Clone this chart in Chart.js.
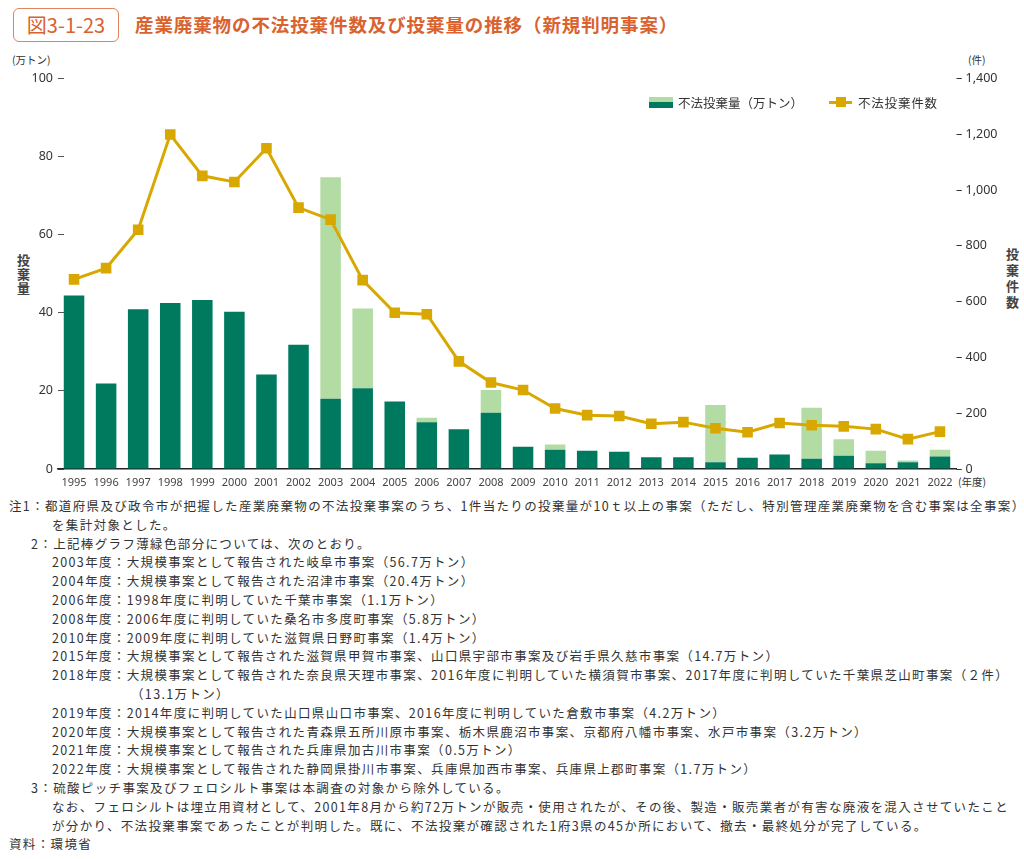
<!DOCTYPE html>
<html lang="ja">
<head>
<meta charset="utf-8">
<title>図3-1-23 産業廃棄物の不法投棄件数及び投棄量の推移</title>
<script src="https://cdn.jsdelivr.net/npm/chart.js@4.4.1/dist/chart.umd.min.js"></script>
<style>
    body {
        margin: 0;
        width: 1024px;
        height: 859px;
        position: relative;
        overflow: hidden;
        background: #fff;
        color: #333;
        font-family: "Noto Sans CJK JP", "Noto Sans", sans-serif;
    }
    .fig-no {
        position: absolute;
        left: 13px;
        top: 8px;
        width: 104px;
        height: 32px;
        border: 1.5px solid #e0835a;
        border-radius: 6px;
        color: #d9622f;
        font-size: 20px;
        line-height: 32px;
        text-align: center;
    }
    .fig-title {
        position: absolute;
        left: 135px;
        top: 9px;
        color: #d9622f;
        font-size: 18.5px;
        font-weight: bold;
        letter-spacing: 0.9px;
        line-height: 30px;
        white-space: nowrap;
    }
    .unit { position: absolute; font-size: 10.5px; white-space: nowrap; }
    .vtitle {
        position: absolute;
        writing-mode: vertical-rl;
        font-size: 13px;
        font-weight: bold;
        color: #444;
    }
    #chart-wrap { position: absolute; left: 0; top: 60px; width: 1024px; height: 436px; }
    .legend { position: absolute; top: 94px; font-size: 12.5px; line-height: 17px; white-space: nowrap; }
    .legend .bar-icon { position: absolute; left: 0; top: 3px; width: 24px; height: 11px; }
    .legend .bar-icon .light { height: 5px; background: #b3dca4; }
    .legend .bar-icon .dark { height: 6px; background: #007a5e; }
    .legend .line-icon { position: absolute; left: 0; top: 7px; width: 23px; height: 3px; background: #d8a800; }
    .legend .line-icon::after {
        content: ""; position: absolute; left: 7px; top: -4px; width: 10px; height: 10px; background: #d8a800;
    }
    .legend span { position: absolute; left: 29px; top: 0; }
    .notes {
        position: absolute;
        left: 0;
        top: 497px;
        width: 1024px;
        font-size: 12.5px;
        line-height: 18.8px;
        letter-spacing: 1.35px;
        white-space: nowrap;
    }
    .notes div { padding-left: 52px; }
    .notes .l0 { padding-left: 9px; }
    .notes .l1 { padding-left: 31px; }
    .notes .l3 { padding-left: 131px; }
</style>
</head>
<body>
<div class="fig-no">図3-1-23</div>
<div class="fig-title">産業廃棄物の不法投棄件数及び投棄量の推移（新規判明事案）</div>

<div class="unit" style="left:12px; top:52px;">(万トン)</div>
<div class="unit" style="left:968px; top:52px;">(件)</div>
<div class="unit" style="left:958px; top:474px;">(年度)</div>
<div class="vtitle" style="left:14px; top:254px; letter-spacing:0.7px;">投棄量</div>
<div class="vtitle" style="left:1003px; top:248px; letter-spacing:2.7px;">投棄件数</div>

<div id="chart-wrap"><canvas id="dumping-chart"></canvas></div>

<div class="legend" style="left:649px;">
    <div class="bar-icon"><div class="light"></div><div class="dark"></div></div>
    <span>不法投棄量（万トン）</span>
</div>
<div class="legend" style="left:829px; letter-spacing:0.8px;">
    <div class="line-icon"></div>
    <span>不法投棄件数</span>
</div>

<div class="notes">
    <div class="l0">注1：都道府県及び政令市が把握した産業廃棄物の不法投棄事案のうち、1件当たりの投棄量が10ｔ以上の事案（ただし、特別管理産業廃棄物を含む事案は全事案）</div>
    <div>を集計対象とした。</div>
    <div class="l1">2：上記棒グラフ薄緑色部分については、次のとおり。</div>
    <div>2003年度：大規模事案として報告された岐阜市事案（56.7万トン）</div>
    <div>2004年度：大規模事案として報告された沼津市事案（20.4万トン）</div>
    <div>2006年度：1998年度に判明していた千葉市事案（1.1万トン）</div>
    <div>2008年度：2006年度に判明していた桑名市多度町事案（5.8万トン）</div>
    <div>2010年度：2009年度に判明していた滋賀県日野町事案（1.4万トン）</div>
    <div>2015年度：大規模事案として報告された滋賀県甲賀市事案、山口県宇部市事案及び岩手県久慈市事案（14.7万トン）</div>
    <div>2018年度：大規模事案として報告された奈良県天理市事案、2016年度に判明していた横須賀市事案、2017年度に判明していた千葉県芝山町事案（２件）</div>
    <div class="l3">（13.1万トン）</div>
    <div>2019年度：2014年度に判明していた山口県山口市事案、2016年度に判明していた倉敷市事案（4.2万トン）</div>
    <div>2020年度：大規模事案として報告された青森県五所川原市事案、栃木県鹿沼市事案、京都府八幡市事案、水戸市事案（3.2万トン）</div>
    <div>2021年度：大規模事案として報告された兵庫県加古川市事案（0.5万トン）</div>
    <div>2022年度：大規模事案として報告された静岡県掛川市事案、兵庫県加西市事案、兵庫県上郡町事案（1.7万トン）</div>
    <div class="l1">3：硫酸ピッチ事案及びフェロシルト事案は本調査の対象から除外している。</div>
    <div>なお、フェロシルトは埋立用資材として、2001年8月から約72万トンが販売・使用されたが、その後、製造・販売業者が有害な廃液を混入させていたこと</div>
    <div>が分かり、不法投棄事案であったことが判明した。既に、不法投棄が確認された1府3県の45か所において、撤去・最終処分が完了している。</div>
    <div class="l0">資料：環境省</div>
</div>

<script>
// 年度
const years = ['1995', '1996', '1997', '1998', '1999', '2000', '2001', '2002', '2003', '2004',
    '2005', '2006', '2007', '2008', '2009', '2010', '2011', '2012', '2013', '2014',
    '2015', '2016', '2017', '2018', '2019', '2020', '2021', '2022'];

// 不法投棄量（万トン）: 通常部分
const volumeRegular = [44.4, 21.9, 40.9, 42.5, 43.3, 40.3, 24.2, 31.8, 18.0, 20.7,
    17.3, 12.0, 10.2, 14.4, 5.7, 4.9, 4.7, 4.4, 3.0, 3.0,
    1.7, 2.9, 3.7, 2.6, 3.4, 1.5, 1.7, 3.2];

// 不法投棄量（万トン）: 薄緑色部分（大規模事案など）
const volumeLarge = [0, 0, 0, 0, 0, 0, 0, 0, 56.7, 20.4,
    0, 1.1, 0, 5.8, 0, 1.4, 0, 0, 0, 0,
    14.7, 0, 0, 13.1, 4.2, 3.2, 0.5, 1.7];

// 不法投棄件数
const caseCounts = [680, 720, 858, 1199, 1051, 1029, 1150, 937, 894, 677,
    560, 555, 386, 310, 283, 217, 193, 190, 162, 168,
    146, 132, 165, 157, 153, 143, 107, 134];

const volumeTicks = { min: 0, max: 100, step: 20 };
const countTicks = { min: 0, max: 1400, step: 200 };

const tickFont = { family: '"Noto Sans", sans-serif', size: 12.5 };

new Chart(document.getElementById('dumping-chart'), {
    data: {
        labels: years,
        datasets: [
            {
                type: 'line',
                label: '不法投棄件数',
                data: caseCounts,
                yAxisID: 'y1',
                order: 0,
                borderColor: '#d8a800',
                backgroundColor: '#d8a800',
                borderWidth: 3,
                pointStyle: 'rect',
                pointRadius: 7.5,
                pointBorderWidth: 0,
                tension: 0
            },
            {
                type: 'bar',
                label: '不法投棄量（万トン）',
                data: volumeRegular,
                yAxisID: 'y',
                order: 1,
                backgroundColor: '#007a5e',
                barPercentage: 0.64,
                categoryPercentage: 1
            },
            {
                type: 'bar',
                label: '不法投棄量（大規模事案等）',
                data: volumeLarge,
                yAxisID: 'y',
                order: 1,
                backgroundColor: '#b3dca4',
                barPercentage: 0.64,
                categoryPercentage: 1
            }
        ]
    },
    options: {
        responsive: true,
        maintainAspectRatio: false,
        animation: false,
        layout: { padding: { top: 18, left: 0, right: 0, bottom: 0 } },
        plugins: {
            legend: { display: false },
            tooltip: { enabled: false }
        },
        scales: {
            x: {
                stacked: true,
                grid: { display: false, drawTicks: false },
                border: { display: true, color: '#222', width: 1.5 },
                ticks: {
                    autoSkip: false,
                    maxRotation: 0,
                    padding: 7,
                    color: '#444',
                    font: { family: '"Liberation Sans Narrow", "Noto Sans", sans-serif', size: 11 }
                },
                afterFit: (scale) => { scale.height = 27; }
            },
            y: {
                position: 'left',
                stacked: true,
                min: volumeTicks.min,
                max: volumeTicks.max,
                // 目盛り線はグラフ内側に短く描く
                grid: {
                    display: true,
                    drawOnChartArea: false,
                    drawTicks: true,
                    tickLength: -6,
                    tickColor: '#555',
                    tickWidth: 1
                },
                border: { display: false },
                ticks: {
                    stepSize: volumeTicks.step,
                    padding: 11,
                    color: '#333',
                    font: tickFont
                },
                afterFit: (scale) => { scale.width = 58; }
            },
            y1: {
                position: 'right',
                min: countTicks.min,
                max: countTicks.max,
                grid: { display: false, drawTicks: false },
                border: { display: false },
                ticks: {
                    stepSize: countTicks.step,
                    padding: 0,
                    color: '#333',
                    font: tickFont,
                    callback: (value) => `– ${value.toLocaleString('en-US')}`
                },
                afterFit: (scale) => { scale.width = 68; }
            }
        }
    }
});
</script>
</body>
</html>
